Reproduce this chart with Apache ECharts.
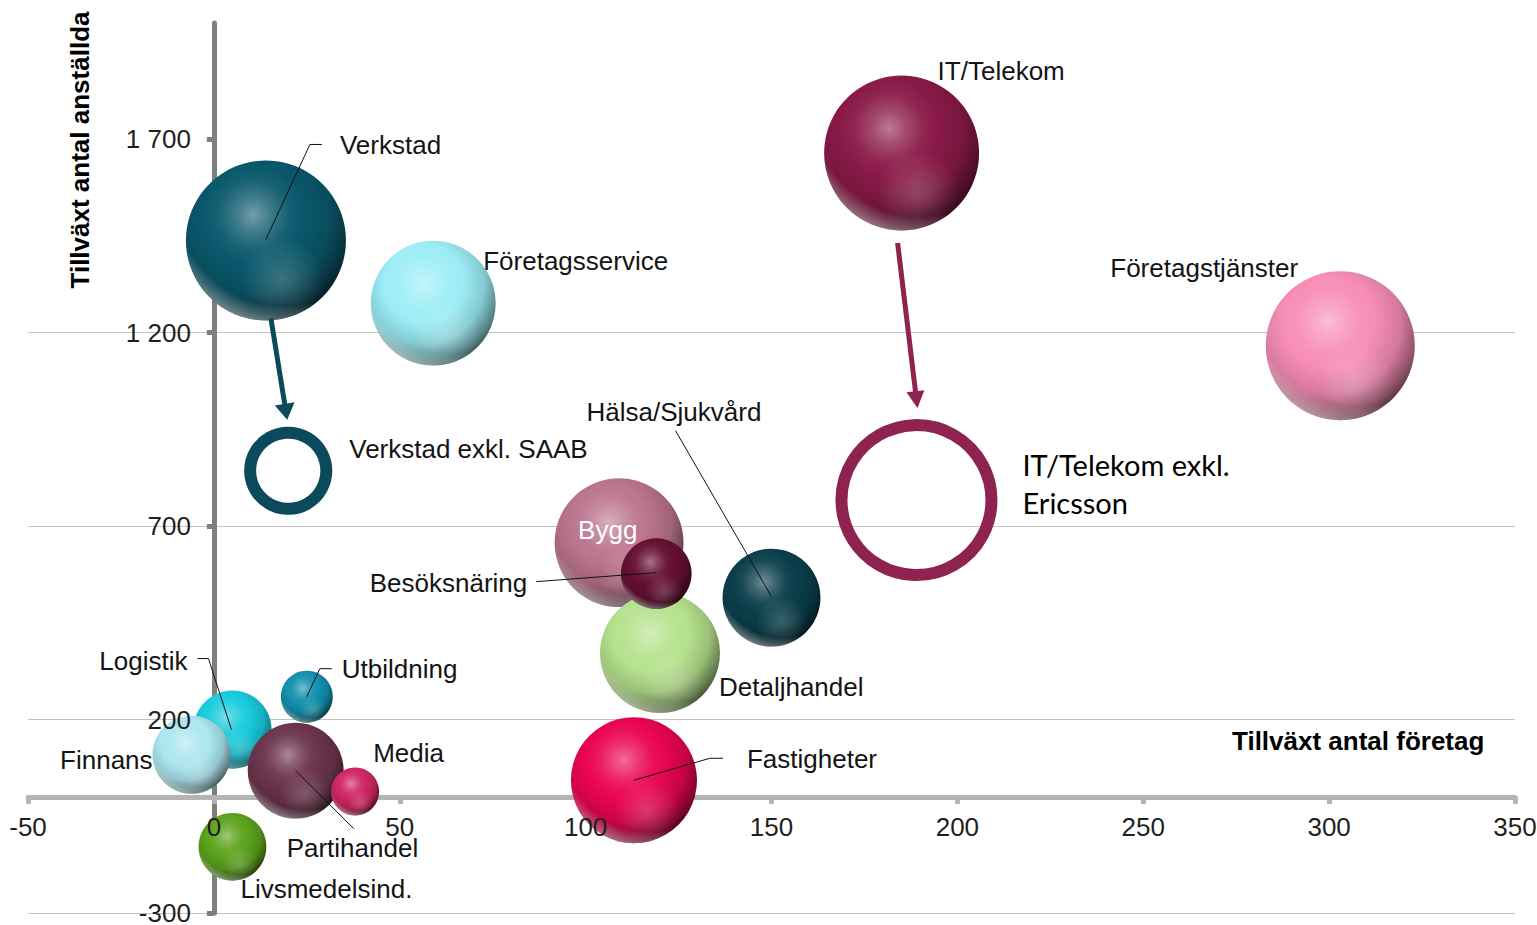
<!DOCTYPE html>
<html lang="sv">
<head>
<meta charset="utf-8">
<title>Tillväxt per bransch</title>
<script src="https://cdn.jsdelivr.net/npm/echarts@6/dist/echarts.min.js"></script>
<style>
html, body { margin: 0; padding: 0; background: #fff; }
#bubbleChart { width: 1537px; height: 925px; }
</style>
</head>
<body>
<div id="bubbleChart"></div>
<script>
// Branscher (bubblor), ritas i denna ordning
var branscher = ['Verkstad', 'Företagsservice', 'IT/Telekom', 'Företagstjänster', 'Bygg', 'Detaljhandel',
    'Besöksnäring', 'Hälsa/Sjukvård', 'Fastigheter', 'Logistik', 'Finnans', 'Utbildning', 'Partihandel',
    'Media', 'Livsmedelsind.'];
var tillvaxtForetag = [14, 59, 185, 303, 109, 120, 119, 150, 113, 5, -6, 25, 22, 38, 5];
var tillvaxtAnstallda = [1438, 1276, 1664, 1166, 657, 372, 577, 515, 43, 174, 109, 259, 68, 14, -129];
var storlek = [256, 156, 240, 222, 166, 144, 50, 96, 159, 61, 61, 27, 92, 23, 46];

// Exklusive storföretag (ringar)
var exklNamn = ['Verkstad exkl. SAAB', 'IT/Telekom exkl. Ericsson'];
var exklForetag = [20, 189];
var exklAnstallda = [843, 767];
var exklStorlek = [58, 225];

// Axlar
var xMin = -50, xMax = 350, xSteg = 50;
var yMin = -300, yMax = 2000, ySteg = 500;
var yTickVarden = [-300, 200, 700, 1200, 1700];

var FONT = "'Liberation Sans', Arial, sans-serif";
var GRID = { left: 28, right: 22, top: 23, bottom: 12 };
var BREDD = 1537, HOJD = 925;

var farger = {
    'Verkstad': '#0a586c',
    'Företagsservice': '#9cedf6',
    'IT/Telekom': '#8a1a48',
    'Företagstjänster': '#f78db5',
    'Bygg': '#bb748e',
    'Detaljhandel': '#b5e28c',
    'Besöksnäring': '#651031',
    'Hälsa/Sjukvård': '#0b3f4c',
    'Fastigheter': '#ea0550',
    'Logistik': '#18cbdc',
    'Finnans': '#ace6ef',
    'Utbildning': '#1290ad',
    'Partihandel': '#6c354d',
    'Media': '#d02663',
    'Livsmedelsind.': '#5ca31c',
    'Verkstad exkl. SAAB': '#0b4a5b',
    'IT/Telekom exkl. Ericsson': '#8e2350'
};

// etikettplacering i pixlar från bubblans mitt
var etiketter = {
    'Verkstad': [74, -95, 'left'],
    'Företagsservice': [50, -42, 'left'],
    'IT/Telekom': [36, -82, 'left'],
    'Företagstjänster': [-230, -78, 'left'],
    'Bygg': [-41, -13, 'left'],
    'Detaljhandel': [59, 34, 'left'],
    'Besöksnäring': [-129, 9, 'right'],
    'Hälsa/Sjukvård': [-185, -186, 'left'],
    'Fastigheter': [113, -21, 'left'],
    'Logistik': [-45, -69, 'right'],
    'Finnans': [-39, 5, 'right'],
    'Utbildning': [35, -28, 'left'],
    'Partihandel': [-9, 77, 'left'],
    'Media': [18, -38, 'left'],
    'Livsmedelsind.': [8, 42, 'left'],
    'Verkstad exkl. SAAB': [61, -22, 'left'],
    'IT/Telekom exkl. Ericsson': [106, -17, 'left']
};

// hänvisningslinjer, pixlar från bubblans mitt
var ledare = {
    'Verkstad': [[0, -1], [44, -96], [56, -96]],
    'Hälsa/Sjukvård': [[-96, -167], [0, -1]],
    'Besöksnäring': [[-120, 8], [0, -1]],
    'Fastigheter': [[0, 0], [76, -22], [89, -22]],
    'Logistik': [[-35, -71], [-24, -71], [-1, 0]],
    'Utbildning': [[25, -28], [13, -28], [0, 0]],
    'Partihandel': [[0, 0], [58, 58]]
};

// pilar från bubbla till ring
var pilar = [
    { fran: 'Verkstad', till: 'Verkstad exkl. SAAB', start: [5, 78], slut: [-1, -51], bredd: 5, hw: 10, hl: 16 },
    { fran: 'IT/Telekom', till: 'IT/Telekom exkl. Ericsson', start: [-4, 90], slut: [1, -92], bredd: 5, hw: 9, hl: 17 }
];

function rgb(hex) {
    var n = parseInt(hex.slice(1), 16);
    return [(n >> 16) & 255, (n >> 8) & 255, n & 255];
}
function blanda(hex, mot, t) {
    var a = rgb(hex), b = rgb(mot);
    return 'rgb(' + a.map(function (v, i) { return Math.round(v + (b[i] - v) * t); }).join(',') + ')';
}
// klotliknande fyllning
function klot(bas) {
    return {
        type: 'radial', x: 0.42, y: 0.34, r: 0.7,
        colorStops: [
            { offset: 0, color: blanda(bas, '#ffffff', 0.42) },
            { offset: 0.15, color: blanda(bas, '#ffffff', 0.22) },
            { offset: 0.32, color: blanda(bas, '#ffffff', 0.05) },
            { offset: 0.45, color: bas },
            { offset: 0.7, color: blanda(bas, '#000000', 0.15) },
            { offset: 0.88, color: blanda(bas, '#000000', 0.45) },
            { offset: 1, color: blanda(bas, '#000000', 0.7) }
        ]
    };
}
// svag reflex nedtill
var reflex = {
    type: 'radial', x: 0.6, y: 0.74, r: 0.26,
    colorStops: [
        { offset: 0, color: 'rgba(255,255,255,0.2)' },
        { offset: 1, color: 'rgba(255,255,255,0)' }
    ]
};
// ljus kant längs nederkanten
var kant = {
    type: 'radial', x: 0.62, y: 0.22, r: 0.8,
    colorStops: [
        { offset: 0, color: 'rgba(255,255,255,0)' },
        { offset: 0.86, color: 'rgba(255,255,255,0)' },
        { offset: 1, color: 'rgba(255,255,255,0.4)' }
    ]
};

function etikett(namn) {
    var e = etiketter[namn];
    var text = namn === 'IT/Telekom exkl. Ericsson' ? 'IT/Telekom exkl.\nEricsson' : namn;
    var lbl = {
        show: true,
        position: 'inside',
        offset: [e[0], e[1]],
        align: e[2],
        verticalAlign: 'middle',
        formatter: text,
        color: namn === 'Bygg' ? '#ffffff' : '#141414',
        fontSize: 26,
        fontFamily: FONT,
        textBorderWidth: 0,
        opacity: 1
    };
    if (namn === 'IT/Telekom exkl. Ericsson') {
        lbl.fontFamily = "Lato, 'Open Sans', sans-serif";
        lbl.fontSize = 29;
        lbl.lineHeight = 38;
        lbl.color = '#000000';
    }
    return lbl;
}

function yEtikett(v) {
    var s = String(Math.abs(v));
    if (s.length > 3) s = s.slice(0, -3) + ' ' + s.slice(-3);
    return (v < 0 ? '-' : '') + s;
}

function diameter(s) { return Math.sqrt(s) * 10; }

var bubbelVarden = branscher.map(function (n, i) {
    return [tillvaxtForetag[i], tillvaxtAnstallda[i], storlek[i]];
});
// etiketter för bubblorna (osynliga symboler)
var etikettData = branscher.map(function (n, i) {
    return {
        name: n,
        value: bubbelVarden[i],
        itemStyle: { color: 'rgba(0,0,0,0)', opacity: 1 },
        label: etikett(n)
    };
});
var ringData = exklNamn.map(function (n, i) {
    return {
        name: n,
        value: [exklForetag[i], exklAnstallda[i], exklStorlek[i]],
        itemStyle: { color: 'rgba(0,0,0,0)', borderColor: farger[n], borderWidth: 12, opacity: 1 },
        label: etikett(n)
    };
});

// avstånd från gridkant till nollan, för etikettaxlarna
var gridB = BREDD - GRID.left - GRID.right;
var gridH = HOJD - GRID.top - GRID.bottom;
var nollX = (0 - xMin) / (xMax - xMin) * gridB;
var nollY = (0 - yMin) / (yMax - yMin) * gridH;

var chart = echarts.init(document.getElementById('bubbleChart'), null, { renderer: 'svg' });

var axelX = { type: 'value', min: xMin, max: xMax, interval: xSteg };
var axelY = { type: 'value', min: yMin, max: yMax, interval: ySteg };

var option = {
    animation: false,
    backgroundColor: '#ffffff',
    grid: { left: GRID.left, right: GRID.right, top: GRID.top, bottom: GRID.bottom, containLabel: false, outerBoundsMode: 'none' },
    xAxis: [
        // linje och streck (under bubblorna)
        Object.assign({}, axelX, {
            z: 0,
            position: 'bottom',
            axisLine: { show: true, onZero: true, onZeroAxisIndex: 0, lineStyle: { color: '#b4b4b4', width: 5 } },
            axisTick: { show: true, length: 7, lineStyle: { color: '#b4b4b4', width: 5 } },
            axisLabel: { show: false },
            splitLine: { show: false }
        }),
        // etiketter (över bubblorna)
        Object.assign({}, axelX, {
            z: 10,
            position: 'bottom',
            offset: -nollY,
            axisLine: { show: false, onZero: false },
            axisTick: { show: false },
            axisLabel: { show: true, margin: 17, color: '#1f1f1f', fontSize: 26, fontFamily: FONT, hideOverlap: false },
            splitLine: { show: false }
        })
    ],
    yAxis: [
        Object.assign({}, axelY, {
            z: 0,
            position: 'left',
            axisLine: { show: true, onZero: true, onZeroAxisIndex: 0, lineStyle: { color: '#7f7f7f', width: 5 } },
            axisTick: { show: true, length: 7, customValues: yTickVarden, lineStyle: { color: '#7f7f7f', width: 5 } },
            axisLabel: { show: false },
            splitLine: { show: true, showMaxLine: false, lineStyle: { color: '#c2c2c2', width: 1 } }
        }),
        Object.assign({}, axelY, {
            z: 10,
            position: 'left',
            offset: -nollX,
            axisLine: { show: false, onZero: false },
            axisTick: { show: false },
            axisLabel: {
                show: true, margin: 23, color: '#1f1f1f', fontSize: 26, fontFamily: FONT,
                customValues: yTickVarden, hideOverlap: false, formatter: yEtikett
            },
            splitLine: { show: false }
        })
    ],
    series: [
        {
            // klotbubblor
            name: 'Branscher',
            type: 'custom',
            xAxisIndex: 0,
            yAxisIndex: 0,
            silent: true,
            z: 2,
            encode: { x: 0, y: 1 },
            data: bubbelVarden,
            renderItem: function (params, api) {
                var p = api.coord([api.value(0), api.value(1)]);
                var r = diameter(api.value(2)) / 2;
                var bas = farger[branscher[params.dataIndex]];
                var form = { cx: p[0], cy: p[1], r: r };
                return {
                    type: 'group',
                    children: [
                        { type: 'circle', shape: form, style: { fill: klot(bas) } },
                        { type: 'circle', shape: form, style: { fill: reflex } },
                        { type: 'circle', shape: form, style: { fill: kant } }
                    ]
                };
            }
        },
        {
            name: 'Etiketter',
            type: 'scatter',
            xAxisIndex: 0,
            yAxisIndex: 0,
            silent: true,
            z: 4,
            itemStyle: { opacity: 1 },
            symbolSize: function (v) { return diameter(v[2]); },
            data: etikettData
        },
        {
            name: 'Exkl. storföretag',
            type: 'scatter',
            xAxisIndex: 0,
            yAxisIndex: 0,
            silent: true,
            z: 3,
            itemStyle: { opacity: 1 },
            symbolSize: function (v) { return diameter(v[2]); },
            data: ringData
        }
    ]
};

chart.setOption(option);

// mittpunkt i pixlar för en bubbla/ring
function mitt(namn) {
    var i = branscher.indexOf(namn);
    if (i >= 0) return chart.convertToPixel({ xAxisIndex: 0, yAxisIndex: 0 }, [tillvaxtForetag[i], tillvaxtAnstallda[i]]);
    i = exklNamn.indexOf(namn);
    return chart.convertToPixel({ xAxisIndex: 0, yAxisIndex: 0 }, [exklForetag[i], exklAnstallda[i]]);
}

var grafik = [];

Object.keys(ledare).forEach(function (namn) {
    var c = mitt(namn);
    grafik.push({
        type: 'polyline', z: 20, silent: true,
        shape: { points: ledare[namn].map(function (p) { return [c[0] + p[0], c[1] + p[1]]; }) },
        style: { stroke: '#111111', lineWidth: 1, fill: null }
    });
});

pilar.forEach(function (p) {
    var a = mitt(p.fran), b = mitt(p.till);
    var s = [a[0] + p.start[0], a[1] + p.start[1]];
    var t = [b[0] + p.slut[0], b[1] + p.slut[1]];
    var dx = t[0] - s[0], dy = t[1] - s[1];
    var len = Math.sqrt(dx * dx + dy * dy);
    var ux = dx / len, uy = dy / len;
    var bas = [t[0] - ux * p.hl, t[1] - uy * p.hl];
    var farg = farger[p.till];
    grafik.push({
        type: 'line', z: 20, silent: true,
        shape: { x1: s[0], y1: s[1], x2: bas[0] + ux * 2, y2: bas[1] + uy * 2 },
        style: { stroke: farg, lineWidth: p.bredd }
    });
    grafik.push({
        type: 'polygon', z: 20, silent: true,
        shape: { points: [t, [bas[0] - uy * p.hw, bas[1] + ux * p.hw], [bas[0] + uy * p.hw, bas[1] - ux * p.hw]] },
        style: { fill: farg }
    });
});

// axeltitlar
grafik.push({
    type: 'text', z: 20, silent: true,
    x: 80, y: 150, rotation: Math.PI / 2,
    style: { text: 'Tillväxt antal anställda', font: 'bold 26px ' + FONT, fill: '#000', align: 'center', verticalAlign: 'middle' }
});
grafik.push({
    type: 'text', z: 20, silent: true,
    x: 1232, y: 741,
    style: { text: 'Tillväxt antal företag', font: 'bold 26px ' + FONT, fill: '#000', align: 'left', verticalAlign: 'middle' }
});

chart.setOption({ graphic: { elements: grafik } });
</script>
</body>
</html>
